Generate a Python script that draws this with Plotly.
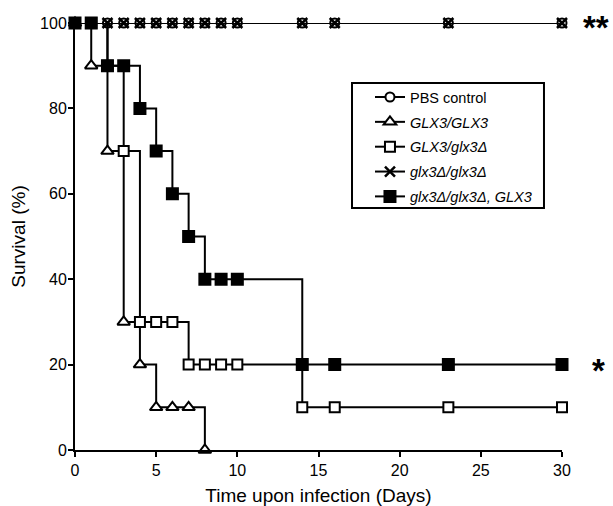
import plotly.graph_objects as go

# ---- data ----
days_full = [0, 1, 2, 3, 4, 5, 6, 7, 8, 9, 10, 14, 16, 23, 30]
pbs_surv = [100, 100, 100, 100, 100, 100, 100, 100, 100, 100, 100, 100, 100, 100, 100]

glx_wt_days = [0, 1, 2, 3, 4, 5, 6, 7, 8]
glx_wt_surv = [100, 90, 70, 30, 20, 10, 10, 10, 0]

het_days = [0, 1, 2, 3, 4, 5, 6, 7, 8, 9, 10, 14, 16, 23, 30]
het_surv = [100, 100, 90, 70, 30, 30, 30, 20, 20, 20, 20, 10, 10, 10, 10]

null_days = [0, 1, 2, 3, 4, 5, 6, 7, 8, 9, 10, 14, 16, 23, 30]
null_surv = [100, 100, 100, 100, 100, 100, 100, 100, 100, 100, 100, 100, 100, 100, 100]

rec_days = [0, 1, 2, 3, 4, 5, 6, 7, 8, 9, 10, 14, 16, 23, 30]
rec_surv = [100, 100, 90, 90, 80, 70, 60, 50, 40, 40, 40, 20, 20, 20, 20]

names = ["PBS control", "<i>GLX3/GLX3</i>", "<i>GLX3/glx3Δ</i>",
         "<i>glx3Δ/glx3Δ</i>", "<i>glx3Δ/glx3Δ, GLX3</i>"]

x_ticks = [0, 5, 10, 15, 20, 25, 30]
y_ticks = [0, 20, 40, 60, 80, 100]

FONT = "Arial, Liberation Sans, sans-serif"

fig = go.Figure()

def add(x, y, name, symbol, fill, size, lw=2):
    fig.add_trace(go.Scatter(
        x=x, y=y, name=name, mode="lines+markers", line_shape="hv",
        line=dict(color="black", width=2),
        marker=dict(symbol=symbol, size=size, color=fill,
                    line=dict(color="black", width=lw)),
        cliponaxis=False, legendgroup=name,
    ))

add(days_full, pbs_surv, names[0], "circle", "white", 9)
add(glx_wt_days, glx_wt_surv, names[1], "triangle-up", "white", 11)
add(het_days, het_surv, names[2], "square", "white", 10)
add(null_days, null_surv, names[3], "x-thin", "black", 10, lw=2.5)
add(rec_days, rec_surv, names[4], "square", "black", 11)

fig.add_annotation(x=1.0, xref="paper", xanchor="left", xshift=19, y=100, yshift=-4,
                   text="<b>**</b>", showarrow=False, font=dict(size=33, family=FONT, color="black"))
fig.add_annotation(x=1.0, xref="paper", xanchor="left", xshift=28, y=20, yshift=-6,
                   text="<b>*</b>", showarrow=False, font=dict(size=33, family=FONT, color="black"))

# legend frame
fig.add_shape(type="rect", xref="paper", yref="paper",
              x0=0.5688, x1=0.963, y0=0.5667, y1=0.8595,
              line=dict(color="black", width=2), fillcolor="rgba(0,0,0,0)")

fig.update_layout(
    width=613, height=506,
    margin=dict(l=75, r=51, t=23, b=56),
    plot_bgcolor="white", paper_bgcolor="white",
    font=dict(family=FONT, color="black", size=16),
    legend=dict(x=0.6057, y=0.864, xanchor="left", yanchor="top",
                borderwidth=0, bgcolor="rgba(0,0,0,0)",
                font=dict(size=14.5, family=FONT), tracegroupgap=3,
                itemwidth=30),
    showlegend=True,
)
fig.update_xaxes(range=[0, 30], tickvals=x_ticks, showgrid=False, zeroline=False,
                 showline=True, linecolor="black", linewidth=2,
                 ticks="outside", ticklen=5, tickwidth=2, tickcolor="black",
                 tickfont=dict(size=16), automargin=False,
                 title=dict(text="Time upon infection (Days)", font=dict(size=19), standoff=14))
fig.update_yaxes(range=[0, 100], tickvals=y_ticks, showgrid=False, zeroline=False,
                 showline=True, linecolor="black", linewidth=2,
                 ticks="outside", ticklen=5, tickwidth=2, tickcolor="black",
                 tickfont=dict(size=16), automargin=False, ticklabelstandoff=-2,
                 title=dict(text="Survival (%)", font=dict(size=19), standoff=9))

fig.write_html("out.html", config={"displayModeBar": False},
               post_script="document.body.style.margin='0px';")
